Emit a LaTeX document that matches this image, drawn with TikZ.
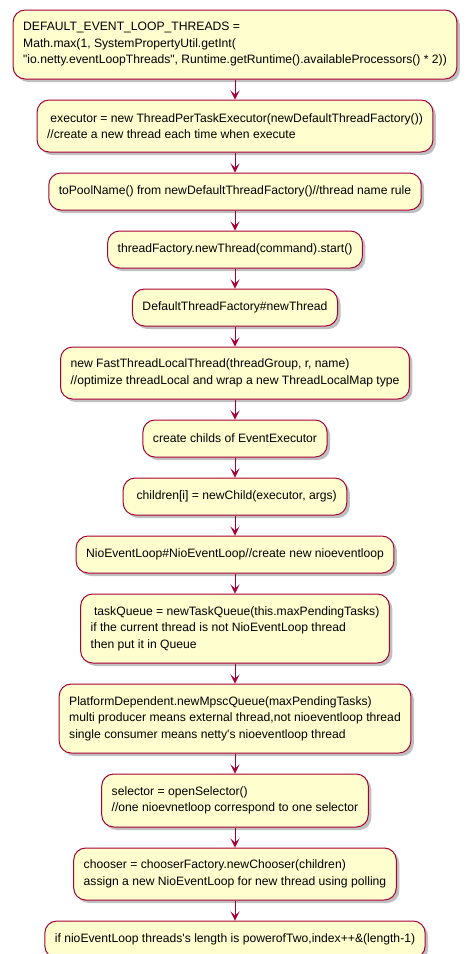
\documentclass[tikz,border=0pt]{standalone}
\usepackage{fontspec}
\setmainfont{Liberation Sans}
\usetikzlibrary{arrows.meta,positioning,shadows}
\definecolor{umlFill}{HTML}{FEFECE}
\definecolor{umlRed}{HTML}{A80036}

\begin{document}
\begin{tikzpicture}[
  activity/.style={
    draw=umlRed,
    fill=umlFill,
    line width=1pt,
    rounded corners=12pt,
    minimum height=37pt,
    inner xsep=10pt,
    inner ysep=4pt,
    align=left,
    font=\fontsize{12.15pt}{16.5pt}\selectfont,
    drop shadow={shadow xshift=3pt,shadow yshift=-3pt,fill=black,opacity=0.25}
  },
  arrow/.style={-{Stealth[length=9pt,width=9pt,inset=4pt]},umlRed,line width=1pt}
]
  \useasboundingbox (0,0) rectangle (471pt,-954pt);
  \node[activity,minimum height=69pt] (threads) at (235pt,-44.5pt)
    {DEFAULT\_EVENT\_LOOP\_THREADS =\\Math.max(1, SystemPropertyUtil.getInt(\\\textquotedbl io.netty.eventLoopThreads\textquotedbl, Runtime.getRuntime().availableProcessors() * 2))};
  \node[activity,minimum height=52pt,below=20pt of threads] (executor)
    {\ executor = new ThreadPerTaskExecutor(newDefaultThreadFactory())\\//create a new thread each time when execute};
  \node[activity,below=20pt of executor] (poolname) {toPoolName() from newDefaultThreadFactory()//thread name rule};
  \node[activity,below=20pt of poolname] (start) {threadFactory.newThread(command).start()};
  \node[activity,below=20pt of start] (factory) {DefaultThreadFactory\#newThread};
  \node[activity,minimum height=52pt,below=20pt of factory] (fastthread)
    {new FastThreadLocalThread(threadGroup, r, name)\\//optimize threadLocal and wrap a new ThreadLocalMap type};
  \node[activity,below=20pt of fastthread] (childs) {create childs of EventExecutor};
  \node[activity,below=20pt of childs] (newchild) {\ children[i] = newChild(executor, args)};
  \node[activity,below=20pt of newchild] (nioloop) {NioEventLoop\#NioEventLoop//create new nioeventloop};
  \node[activity,minimum height=69pt,below=20pt of nioloop] (taskqueue)
    {\ taskQueue = newTaskQueue(this.maxPendingTasks)\\if the current thread is not NioEventLoop thread\\then put it in Queue};
  \node[activity,minimum height=69pt,below=20pt of taskqueue] (mpsc)
    {PlatformDependent.newMpscQueue(maxPendingTasks)\\multi producer means external thread,not nioeventloop thread\\single consumer means netty\textquotesingle s nioeventloop thread};
  \node[activity,minimum height=53pt,below=20pt of mpsc] (selector)
    {selector = openSelector()\\//one nioevnetloop correspond to one selector};
  \node[activity,minimum height=52pt,below=20pt of selector] (chooser)
    {chooser = chooserFactory.newChooser(children)\\assign a new NioEventLoop for new thread using polling};
  \node[activity,below=20pt of chooser] (poweroftwo)
    {if nioEventLoop threads\textquotesingle s length is powerofTwo,index++\&(length-1)};

  \draw[arrow] (threads) -- (executor);
  \draw[arrow] (executor) -- (poolname);
  \draw[arrow] (poolname) -- (start);
  \draw[arrow] (start) -- (factory);
  \draw[arrow] (factory) -- (fastthread);
  \draw[arrow] (fastthread) -- (childs);
  \draw[arrow] (childs) -- (newchild);
  \draw[arrow] (newchild) -- (nioloop);
  \draw[arrow] (nioloop) -- (taskqueue);
  \draw[arrow] (taskqueue) -- (mpsc);
  \draw[arrow] (mpsc) -- (selector);
  \draw[arrow] (selector) -- (chooser);
  \draw[arrow] (chooser) -- (poweroftwo);
\end{tikzpicture}
\end{document}
